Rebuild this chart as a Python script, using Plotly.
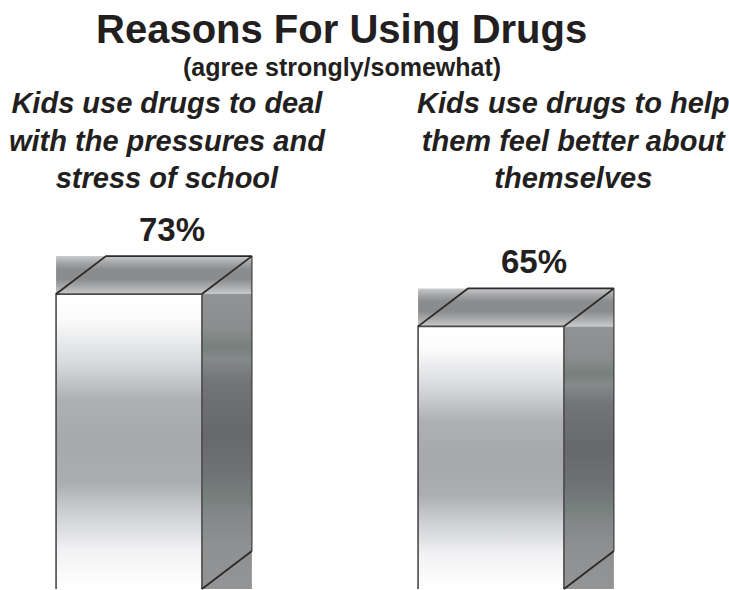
import plotly.graph_objects as go

# ---- data ----
categories = [
    "Kids use drugs to deal<br>with the pressures and<br>stress of school",
    "Kids use drugs to help<br>them feel better about<br>themselves",
]
values = [73, 65]
value_labels = ["73%", "65%"]
title_text = "Reasons For Using Drugs"
subtitle_text = "(agree strongly/somewhat)"

# ---- style ----
W, H = 729, 590
BAR_W = 0.403          # front face width (x units)
DX = 0.138             # depth offset in x units
DY = 9.4               # depth offset in y units
LABEL_DX = 0.119       # value label offset from bar centre (x units)
EDGE = "#2b2b2b"
TEXT = "#231f20"

front_scale = [
    [0.0, "#ffffff"], [0.13, "#f2f2f4"], [0.27, "#c9cbce"], [0.36, "#abadb0"],
    [0.5, "#a6a8ab"], [0.64, "#aeb0b3"], [0.77, "#d8dadd"], [0.92, "#fcfcfc"],
    [1.0, "#ffffff"],
]
side_scale = [
    [0.0, "#939496"], [0.15, "#8e9092"], [0.25, "#85888a"], [0.3, "#77817e"],
    [0.4, "#6f7174"], [0.53, "#67686c"], [0.7, "#727477"], [0.78, "#85898a"],
    [0.82, "#76807c"], [0.88, "#8a8c8d"], [1.0, "#929395"],
]
top_scale = [
    [0.0, "#c8c9cb"], [0.2, "#a8a9ab"], [0.4, "#8a8b8d"], [0.65, "#8b8c8e"],
    [0.85, "#a9aaac"], [1.0, "#cacbcd"],
]

fig = go.Figure()


def poly(xs, ys, scale):
    fig.add_trace(go.Scatter(
        x=xs + [xs[0]], y=ys + [ys[0]], mode="lines", fill="toself",
        line=dict(width=0, color="rgba(0,0,0,0)"),
        fillgradient=dict(type="vertical", colorscale=scale),
        hoverinfo="skip", showlegend=False,
    ))


def line(xs, ys, color=EDGE, width=1.6):
    fig.add_trace(go.Scatter(
        x=xs, y=ys, mode="lines", line=dict(color=color, width=width),
        hoverinfo="skip", showlegend=False,
    ))


for i, v in enumerate(values):
    l = i - BAR_W / 2
    r = i + BAR_W / 2
    # top band (bounding box of top face)
    poly([l, r + DX, r + DX, l], [v, v, v + DY, v + DY], top_scale)
    # side band
    poly([r, r + DX, r + DX, r], [0, 0, v, v], side_scale)
    # front face
    poly([l, r, r, l], [0, 0, v, v], front_scale)
    # outlines
    line([l, l, r, r], [0, v, v, 0], color="#4a4a4a", width=1.6)
    line([l, l + DX, r + DX, r], [v, v + DY, v + DY, v], width=1.8)
    line([r + DX, r + DX], [v + DY, DY], color="#3a3a3a", width=1.2)
    line([r, r + DX], [0, DY], width=1.8)
    fig.add_annotation(
        x=i + LABEL_DX, y=v + DY, xref="x", yref="y", text="<b>%s</b>" % value_labels[i],
        showarrow=False, yanchor="bottom", yshift=6,
        font=dict(family="Liberation Sans, Arial", size=33, color=TEXT),
    )

# category labels
cat_x = [167, 573]
for i, c in enumerate(categories):
    fig.add_annotation(
        x=cat_x[i] / W, y=1 - 140 / H, xref="paper", yref="paper",
        text="<b><i>%s</i></b>" % c, showarrow=False, align="center",
        xanchor="center", yanchor="middle",
        font=dict(family="Liberation Sans, Arial", size=29, color=TEXT),
    )

fig.add_annotation(
    x=341 / W, y=1 - 29 / H, xref="paper", yref="paper",
    text="<b>%s</b>" % title_text, showarrow=False, xanchor="center", yanchor="middle",
    font=dict(family="Liberation Sans, Arial", size=40, color=TEXT),
)
fig.add_annotation(
    x=342 / W, y=1 - 67 / H, xref="paper", yref="paper",
    text="<b>%s</b>" % subtitle_text, showarrow=False, xanchor="center", yanchor="middle",
    font=dict(family="Liberation Sans, Arial", size=25, color=TEXT),
)

px_per_unit = 4.04
x_center0 = 129
x_step = 362
fig.update_layout(
    width=W, height=H, autosize=False,
    margin=dict(l=0, r=0, t=0, b=0),
    paper_bgcolor="white", plot_bgcolor="white",
    xaxis=dict(range=[-x_center0 / x_step, (W - x_center0) / x_step], visible=False,
               fixedrange=True),
    yaxis=dict(range=[-1 / px_per_unit, (H - 1) / px_per_unit], visible=False,
               fixedrange=True),
)

fig.write_html("out.html")
